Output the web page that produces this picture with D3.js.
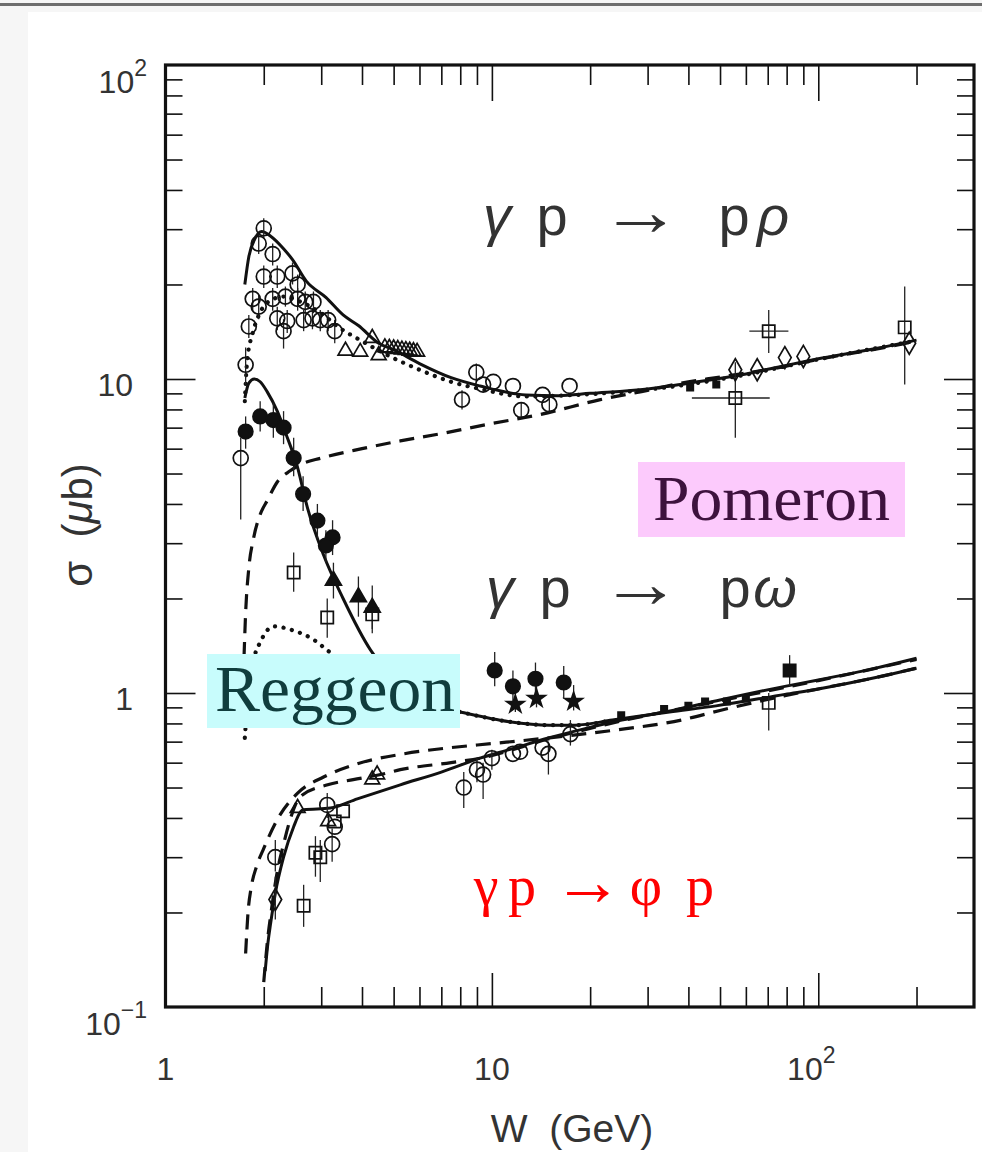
<!DOCTYPE html>
<html>
<head>
<meta charset="utf-8">
<script src="https://cdn.jsdelivr.net/npm/d3@7"></script>
<style>
  body { margin: 0; background: #fff; }
  svg { display: block; }
</style>
</head>
<body>
<div id="chart"></div>
<script>
// ---- curves (W in GeV, sigma in microbarn) ----
const rhoTotal = [[1.75,20],[1.8,24.5],[1.88,28],[1.97,29.5],[2.1,28.5],[2.3,26],[2.45,24],[2.7,20.5],[3.1,18.2],[3.5,16],[3.9,14.8],[4.5,13],[5,12.4],[6,11.2],[7.5,10.1],[9.2,9.5],[12.7,8.9],[16,8.85],[20,9.0],[30,9.3],[40,9.7],[55,10.2],[75,10.9],[100,11.6],[150,12.5],[200,13.3]]
const rhoDotted = [[1.75,8.5],[1.78,11.5],[1.85,14],[1.95,16.3],[2.1,17.8],[2.3,18.3],[2.6,17.6],[3.0,16.2],[3.4,14.6],[4,13.2],[4.65,12.1],[6,10.7],[7.5,9.8],[9.2,9.3],[12.7,8.8],[20,8.95],[30,9.25],[55,10.15],[100,11.55],[200,13.25]]
const rhoPomeron = [[1.74,1.3],[1.76,1.8],[1.8,2.5],[1.86,3.1],[1.95,3.7],[2.05,4.1],[2.2,4.7],[2.41,5.1],[2.6,5.35],[3,5.6],[4,6.0],[5.24,6.35],[7,6.7],[9.9,7.2],[14,7.7],[21.5,8.6],[30,9.2],[38,9.7],[50,10.15],[75,10.85],[100,11.55],[150,12.45],[200,13.2]]

const omegaTotal = [[1.75,8.7],[1.8,9.7],[1.87,10],[1.95,9.8],[2.05,9.1],[2.2,7.9],[2.35,6.6],[2.53,5.3],[2.72,3.9],[3.05,2.75],[3.5,2.0],[4.25,1.37],[5,1.12],[6,0.98],[7,0.9],[8.4,0.86],[11.3,0.81],[15,0.79],[18,0.79],[23.4,0.82],[35,0.87],[48.6,0.91],[79,0.99],[100,1.03],[150,1.12],[200,1.2]]
const omegaReggeon = [[1.75,0.72],[1.8,1.05],[1.87,1.3],[1.95,1.45],[2.14,1.63],[2.47,1.58],[2.84,1.48],[3.1,1.38],[3.6,1.22],[4.5,1.05],[5.5,0.96],[7,0.9],[8.4,0.86],[11.3,0.81],[15,0.79],[18,0.79],[23.4,0.82]]
const omegaPomeron = [[1.76,0.148],[1.79,0.2],[1.83,0.24],[1.9,0.28],[2.0,0.32],[2.2,0.395],[2.54,0.48],[3.05,0.54],[3.87,0.595],[5.36,0.64],[7.5,0.67],[10,0.69],[15,0.72],[23.4,0.76],[38,0.82],[50,0.88],[79,0.98],[100,1.03],[150,1.12],[200,1.2]]

const phiTotal = [[2.02,0.13],[2.06,0.16],[2.1,0.185],[2.17,0.23],[2.3,0.3],[2.47,0.375],[2.6,0.42],[2.65,0.425],[3.2,0.43],[3.87,0.46],[5.24,0.51],[7,0.56],[9.2,0.62],[11.3,0.66],[15,0.72],[19.3,0.77],[25,0.82],[37.8,0.89],[50,0.95],[79,1.05],[100,1.1],[150,1.2],[200,1.29]]
const phiPomeron = [[2.0,0.12],[2.05,0.16],[2.12,0.21],[2.2,0.27],[2.3,0.33],[2.4,0.39],[2.5,0.44],[2.6,0.47],[3.14,0.51],[3.76,0.53],[4.56,0.55],[5.24,0.57],[7.5,0.6],[9.2,0.62],[15,0.715],[25,0.815],[50,0.945],[100,1.095],[200,1.28]]

// ---- data points: [W, sigma, sigmaLow, sigmaHigh, Wlow, Whigh] ----
const openCircles = [
  [2.0,30.2,28,32.5],[1.93,27,25,29],[2.13,25,23,27],[2.0,21.2,19.5,23],[2.2,21.2,19.5,23],[2.45,21.7,20,23.5],
  [2.54,20,18.5,21.5],[1.85,18,16.5,19.5],[1.93,17,15.5,18.5],[2.13,18,16.5,19.5],[2.33,18.3,17,19.7],[2.54,18,16.5,19.5],
  [2.68,17.6,16.2,19],[2.84,17.6,16.2,19],[2.2,15.6,14.3,17],[2.36,15.3,14,16.6],[2.65,15.4,14.2,16.6],[2.82,15.6,14.4,16.8],
  [2.98,15.4,14.2,16.6],[3.15,15.4,14.2,16.6],[2.3,14.2,12.5,15.5],[3.3,14.2,13,15.4],[1.8,14.7,13.5,16],[1.76,11.1,9.6,12.6],
  [8.1,8.6,8.0,9.2],[8.96,10.5,9.8,11.2],[9.4,9.6],[10.1,9.8],[11.6,9.5],[12.3,7.96,7.5,8.4],[14.3,8.9],[15,8.3,7.8,8.8],[17.3,9.5],
  [1.7,5.6,3.57,6.5],
  [8.2,0.5,0.43,0.56],[9.0,0.57,0.52,0.62],[9.4,0.55,0.46,0.6],[10.0,0.62,0.57,0.66],[11.6,0.64],[12.2,0.65],
  [14.3,0.67],[14.9,0.64,0.55,0.7],[17.4,0.74,0.68,0.82],
  [2.17,0.30,0.27,0.34],[3.24,0.33,0.29,0.37],[3.13,0.44,0.4,0.48],[3.3,0.375]
]
const filledCircles = [
  [1.76,6.8,6.0,7.6],[1.95,7.6,6.8,8.5],[2.14,7.4,6.5,8.4],[2.3,7.0,6.2,7.9],[2.47,5.6,4.9,6.5],[2.64,4.3,3.8,4.9],
  [2.92,3.54,3.1,4.0],[3.25,3.13,2.75,3.55],[3.1,2.95,2.6,3.3],
  [10.2,1.18,1.05,1.35],[11.6,1.05,0.93,1.18],[13.6,1.11,0.99,1.25],[16.6,1.08,0.96,1.22]
]
const filledTriangles = [[3.27,2.28,2.0,2.6],[3.9,2.02,1.75,2.35],[4.3,1.87,1.6,2.2]]
const openTriangles = [
  [3.56,12.3],[3.95,12.2],[4.5,11.9],[4.3,13.5],[4.7,12.6],[4.85,12.55],[5.0,12.5],[5.15,12.45],[5.3,12.4],
  [5.45,12.35],[5.6,12.3],[5.75,12.25],[5.9,12.2],
  [2.54,0.43],[3.15,0.39],[4.3,0.53],[4.45,0.55]
]
const openSquares = [
  [2.47,2.42,2.1,2.8],[3.13,1.74,1.5,2.0],[4.3,1.78,1.55,2.0],
  [55.7,8.7,6.5,11.3,41,71],[70.5,14.2,12.1,16.6,61.5,81],[184,14.6,9.6,19.7],
  [70.5,0.93,0.76,1.0],
  [2.65,0.21,0.18,0.245],[2.88,0.31,0.26,0.35],[2.98,0.3,0.25,0.34],[3.5,0.42],[3.3,0.39]
]
const smallSquares = [[48.7,9.6],[40.5,9.4],[24.9,0.85],[33.7,0.89],[40,0.91],[45,0.94],[52.5,0.94],[60,0.96]]
const diamonds = [[55.7,10.7],[65,10.7],[79,11.7],[90,11.8],[190,13],[2.17,0.22,0.19,0.26]]
const stars = [[11.8,0.92,0.87,1.05],[13.7,0.96,0.9,1.08],[17.8,0.94,0.88,1.06]]
const filledSquares = [[81.7,1.18,1.05,1.32]]

// ---- ticks ----
const xMajor = [10, 100]
const xMinor = [2,3,4,5,6,7,8,9,20,30,40,50,60,70,80,90,200]
const yMajor = [1, 10]
const yMinor = [0.2,0.3,0.4,0.5,0.6,0.7,0.8,0.9,2,3,4,5,6,7,8,9,20,30,40,50,60,70,80,90]
const xTickLabels = [["1",""],["10",""],["10","2"]]
const xTickValues = [1, 10, 100]
const yTickLabels = [["10","2"],["10",""],["1",""],["10","\u22121"]]
const yTickValues = [100, 10, 1, 0.1]

const width = 982, height = 1152
const frame = { left: 165.5, right: 974, top: 65, bottom: 1007 }

const svg = d3.select("#chart").append("svg")
  .attr("width", width).attr("height", height)
  .attr("viewBox", [0, 0, width, height])

// page background like a slide screenshot
svg.append("rect").attr("width", width).attr("height", height).attr("fill", "#f6f6f6")
svg.append("rect").attr("x", 28).attr("y", 12).attr("width", width - 28).attr("height", height - 12).attr("fill", "#fff")
svg.append("rect").attr("x", 0).attr("y", 3).attr("width", width).attr("height", 3).attr("fill", "#6e6e6e")

const x = d3.scaleLog().domain([1, 300]).range([frame.left, frame.right])
const y = d3.scaleLog().domain([0.1, 100]).range([frame.bottom, frame.top])

const line = d3.line()
  .x(d => x(d[0]))
  .y(d => y(d[1]))
  .curve(d3.curveMonotoneX)

const plot = svg.append("g")

const drawCurve = (data, kind) => {
  const p = plot.append("path")
    .datum(data)
    .attr("fill", "none")
    .attr("stroke", "#111")
    .attr("stroke-linejoin", "round")
    .attr("d", line)
  if (kind === "solid") p.attr("stroke-width", 3)
  if (kind === "dashed") p.attr("stroke-width", 3.2).attr("stroke-dasharray", "15,9")
  if (kind === "dotted") p.attr("stroke-width", 4.2).attr("stroke-linecap", "round").attr("stroke-dasharray", "0.1,8.5")
}

drawCurve(rhoPomeron, "dashed")
drawCurve(rhoDotted, "dotted")
drawCurve(rhoTotal, "solid")
drawCurve(omegaPomeron, "dashed")
drawCurve(omegaReggeon, "dotted")
drawCurve(omegaTotal, "solid")
drawCurve(phiPomeron, "dashed")
drawCurve(phiTotal, "solid")

// error bars
const errs = plot.append("g").attr("stroke", "#222").attr("stroke-width", 1.3)
const allPoints = [].concat(openCircles, filledCircles, filledTriangles, openTriangles, openSquares, diamonds, stars, filledSquares)
errs.selectAll("line.v")
  .data(allPoints.filter(d => d[2] != null))
  .join("line")
  .attr("x1", d => x(d[0])).attr("x2", d => x(d[0]))
  .attr("y1", d => y(d[2])).attr("y2", d => y(d[3]))
errs.selectAll("line.h")
  .data(allPoints.filter(d => d[4] != null))
  .join("line")
  .attr("x1", d => x(d[4])).attr("x2", d => x(d[5]))
  .attr("y1", d => y(d[1])).attr("y2", d => y(d[1]))

const drawPoints = (data, type, size, filled) => {
  plot.append("g").selectAll("path")
    .data(data)
    .join("path")
    .attr("transform", d => `translate(${x(d[0])},${y(d[1])})`)
    .attr("d", d3.symbol().type(type).size(size))
    .attr("fill", filled ? "#111" : "none")
    .attr("stroke", "#111")
    .attr("stroke-width", 1.7)
}

drawPoints(openCircles, d3.symbolCircle, 175, false)
drawPoints(filledCircles, d3.symbolCircle, 165, true)
drawPoints(filledTriangles, d3.symbolTriangle, 110, true)
drawPoints(openTriangles, d3.symbolTriangle, 95, false)
drawPoints(openSquares, d3.symbolSquare, 150, false)
drawPoints(smallSquares, d3.symbolSquare, 40, true)
drawPoints(diamonds, d3.symbolDiamond, 140, false)
drawPoints(stars, d3.symbolStar, 95, true)
drawPoints(filledSquares, d3.symbolSquare, 150, true)

// ---- axes (ticks pointing inward) ----
const tickG = (axis, tx, ty, len, values) => {
  svg.append("g")
    .attr("transform", `translate(${tx},${ty})`)
    .call(axis.tickValues(values).tickSize(-len).tickFormat(""))
    .call(g => g.select(".domain").remove())
    .call(g => g.selectAll(".tick line").attr("stroke", "#111").attr("stroke-width", 1.6))
}
tickG(d3.axisBottom(x), 0, frame.bottom, 20, xMinor)
tickG(d3.axisBottom(x), 0, frame.bottom, 34, xMajor)
tickG(d3.axisTop(x), 0, frame.top, 20, xMinor)
tickG(d3.axisTop(x), 0, frame.top, 36, xMajor)
tickG(d3.axisLeft(y), frame.left, 0, 17, yMinor)
tickG(d3.axisLeft(y), frame.left, 0, 30, yMajor)
tickG(d3.axisRight(y), frame.right, 0, 17, yMinor)
tickG(d3.axisRight(y), frame.right, 0, 30, yMajor)

svg.append("rect")
  .attr("x", frame.left).attr("y", frame.top)
  .attr("width", frame.right - frame.left).attr("height", frame.bottom - frame.top)
  .attr("fill", "none").attr("stroke", "#111").attr("stroke-width", 3.2)

// tick labels
const labelFont = "'Liberation Sans', Arial, sans-serif"
xTickValues.forEach((v, i) => {
  const [base, sup] = xTickLabels[i]
  const t = svg.append("text")
    .attr("x", x(v) - (sup ? 7 : 0)).attr("y", 1080)
    .attr("text-anchor", "middle")
    .attr("font-family", labelFont).attr("font-size", 32).attr("fill", "#333")
    .text(base)
  if (sup) t.append("tspan").attr("dy", -17).attr("font-size", 23).text(sup)
})
yTickValues.forEach((v, i) => {
  const [base, sup] = yTickLabels[i]
  const t = svg.append("text")
    .attr("x", sup ? 147 : 133).attr("y", y(v) + (sup ? 28 : 17))
    .attr("text-anchor", "end")
    .attr("font-family", labelFont).attr("font-size", 32).attr("fill", "#333")
    .text(base)
  if (sup) t.append("tspan").attr("dy", -17).attr("font-size", 23).text(sup)
})

// axis titles
svg.append("text")
  .attr("transform", "translate(92,525) rotate(-90)")
  .attr("text-anchor", "middle")
  .attr("font-family", labelFont).attr("font-size", 42).attr("fill", "#333")
  .attr("xml:space", "preserve")
  .text("σ  (")
  .call(t => t.append("tspan").attr("font-style", "italic").text("μ"))
  .call(t => t.append("tspan").text("b)"))
svg.append("text")
  .attr("x", 572).attr("y", 1142)
  .attr("text-anchor", "middle")
  .attr("font-family", labelFont).attr("font-size", 39).attr("fill", "#333")
  .attr("xml:space", "preserve")
  .text("W  (GeV)")

// reaction labels
const reaction = (tokens, baseline, font, size, color) => {
  tokens.forEach(([s, cx, italic, w]) => {
    const t = svg.append("text")
      .attr("x", cx).attr("y", baseline)
      .attr("text-anchor", "middle")
      .attr("font-family", font).attr("font-size", size).attr("fill", color)
      .attr("font-style", italic ? "italic" : "normal")
      .text(s)
    if (w) t.attr("textLength", w).attr("lengthAdjust", "spacingAndGlyphs")
      .attr("x", cx - w / 2).attr("text-anchor", "start").attr("font-size", size * 1.25)
  })
}
reaction([["γ", 497, true], ["p", 552], ["→", 641, false, 82], ["p", 734], ["ρ", 773, true]], 235, labelFont, 56, "#333")
reaction([["γ", 500, true], ["p", 555], ["→", 641, false, 82], ["p", 735], ["ω", 775, true]], 607, labelFont, 56, "#333")

// highlighted model labels
svg.append("rect").attr("x", 638).attr("y", 462).attr("width", 267).attr("height", 75).attr("fill", "#fccafc")
svg.append("text")
  .attr("x", 653).attr("y", 520)
  .attr("font-family", "'Liberation Serif', 'Times New Roman', serif").attr("font-size", 64)
  .attr("fill", "#3d123d").attr("textLength", 237).attr("lengthAdjust", "spacingAndGlyphs")
  .text("Pomeron")

svg.append("rect").attr("x", 207).attr("y", 654).attr("width", 253).attr("height", 74).attr("fill", "#c8fcfc")
svg.append("text")
  .attr("x", 215).attr("y", 711)
  .attr("font-family", "'Liberation Serif', 'Times New Roman', serif").attr("font-size", 65)
  .attr("fill", "#103d3d").attr("textLength", 240).attr("lengthAdjust", "spacingAndGlyphs")
  .text("Reggeon")

reaction([["γ", 486], ["p", 522], ["→", 588, false, 70], ["φ", 646], ["p", 700]], 905,
  "'Liberation Serif', 'Times New Roman', serif", 56, "#ff0000")
</script>
</body>
</html>
